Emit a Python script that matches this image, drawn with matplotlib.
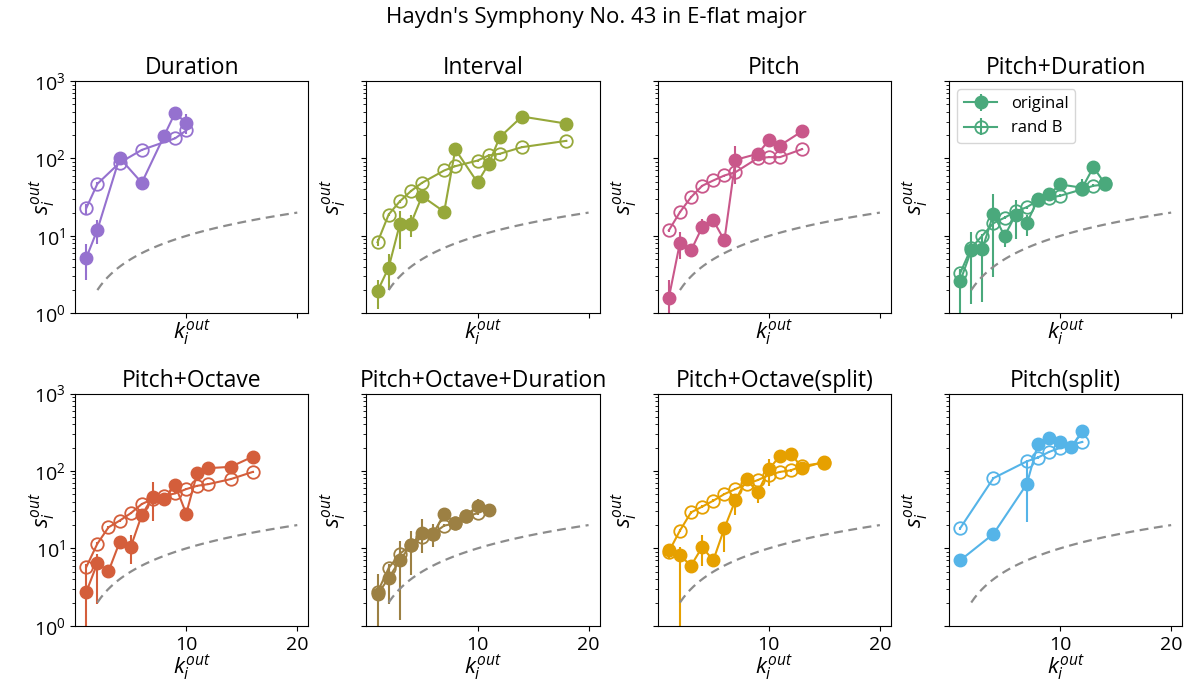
import numpy as np
import matplotlib
matplotlib.use("Agg")
import matplotlib.pyplot as plt

plt.rcParams["font.family"] = ["Open Sans", "DejaVu Sans"]
plt.rcParams["mathtext.fontset"] = "custom"
plt.rcParams["mathtext.rm"] = "Open Sans"
plt.rcParams["mathtext.it"] = "Open Sans:italic"
plt.rcParams["mathtext.bf"] = "Open Sans:bold"

# ---- data: out-degree k vs out-strength s for each network type ----
titles = ["Duration", "Interval", "Pitch", "Pitch+Duration",
          "Pitch+Octave", "Pitch+Octave+Duration", "Pitch+Octave(split)", "Pitch(split)"]
colors = ["#9571cf", "#96a83a", "#c9578a", "#4aa97c",
          "#d45e3b", "#9c8043", "#e6a000", "#55b4e8"]

# Duration
dur_k_orig = [1, 2, 4, 6, 8, 9, 10]
dur_s_orig = [5.2, 12.0, 102, 48.5, 195, 389, 286]
dur_lo_orig = [2.7, 7.8, 98, 46, 188, 375, 250]
dur_hi_orig = [7.9, 16.2, 106, 51, 202, 403, 380]
dur_k_rand = [1, 2, 4, 6, 9, 10]
dur_s_rand = [22.8, 47, 88, 129, 182, 230]
dur_lo_rand = [19, 45, 85, 125, 176, 205]
dur_hi_rand = [26, 49, 91, 133, 188, 262]

# Interval
int_k_orig = [1, 2, 3, 4, 5, 7, 8, 10, 11, 12, 14, 18]
int_s_orig = [1.94, 3.9, 14.1, 14.4, 32.6, 20.5, 131, 49, 85, 188, 348, 282]
int_lo_orig = [1.15, 1.98, 6.8, 9.7, 31, 19.5, 125, 47, 70, 180, 335, 272]
int_hi_orig = [2.67, 5.9, 20.9, 18.7, 34, 21.5, 137, 51, 105, 196, 361, 292]
int_k_rand = [1, 2, 3, 4, 5, 7, 8, 10, 11, 12, 14, 18]
int_s_rand = [8.3, 18.9, 27.9, 37.9, 48.5, 70, 79.5, 94, 109.5, 115, 140, 169]
int_lo_rand = [7.4, 18.2, 27, 36.5, 47, 68, 77, 91, 106, 112, 136, 165]
int_hi_rand = [9.2, 19.6, 28.8, 39.3, 50, 72, 82, 97, 113, 118, 144, 173]

# Pitch
pit_k_orig = [1, 2, 3, 4, 5, 6, 7, 9, 10, 11, 13]
pit_s_orig = [1.59, 8.2, 6.5, 13, 15.9, 8.75, 96, 115, 171, 147, 225]
pit_lo_orig = [0.5, 5.1, 6.2, 10.5, 15.2, 8.4, 47, 110, 165, 141, 217]
pit_hi_orig = [2.67, 11.2, 6.8, 16.5, 16.6, 9.1, 143, 120, 177, 153, 233]
pit_k_rand = [1, 2, 3, 4, 5, 6, 7, 9, 10, 11, 13]
pit_s_rand = [11.8, 20.3, 31.7, 44.4, 52, 60.3, 66.6, 101, 104, 104, 132]
pit_lo_rand = [11.3, 19.6, 30.7, 43, 50.5, 58.5, 64, 98, 101, 101, 128]
pit_hi_rand = [12.3, 21.0, 32.7, 45.8, 53.5, 62, 69, 104, 107, 107, 136]

# Pitch+Duration
pd_k_orig = [1, 2, 3, 4, 5, 6, 7, 8, 9, 10, 12, 13, 14]
pd_s_orig = [2.59, 6.5, 6.8, 19.3, 9.95, 18.9, 14.6, 29.6, 34.3, 46.2, 41.9, 77.3, 48]
pd_lo_orig = [0.5, 1.33, 1.4, 2.94, 7.2, 9.2, 10.1, 25, 29, 38, 33, 75, 46]
pd_hi_orig = [3.6, 11.2, 9.7, 35, 11.8, 28.7, 18.4, 35, 41, 56, 54, 80, 50]
pd_k_rand = [1, 2, 3, 4, 5, 6, 7, 8, 9, 10, 12, 13, 14]
pd_s_rand = [3.3, 7.0, 10.1, 14.6, 17.2, 20.7, 23.5, 28.7, 31.1, 33, 40, 44.4, 46.2]
pd_lo_rand = [2.9, 6.5, 9.5, 13.8, 16.3, 19.7, 22.3, 27.3, 29.6, 31.5, 38, 42.5, 44.2]
pd_hi_rand = [3.7, 7.5, 10.7, 15.4, 18.1, 21.7, 24.7, 30.1, 32.6, 34.5, 42, 46.3, 48.2]

# Pitch+Octave
po_k_orig = [1, 2, 3, 4, 5, 6, 7, 8, 9, 10, 11, 12, 14, 16]
po_s_orig = [2.73, 6.45, 5.05, 12.0, 10.4, 27, 46.5, 42.9, 65.6, 28.1, 94.6, 108.7, 113, 153]
po_lo_orig = [0.5, 1.94, 4.8, 10, 6.3, 25.5, 22.8, 41, 62, 26.8, 90, 104, 108, 147]
po_hi_orig = [5.2, 8.5, 5.3, 14, 14.7, 28.5, 71, 45, 69, 29.4, 99, 113, 118, 159]
po_k_rand = [1, 2, 3, 4, 5, 6, 7, 8, 9, 10, 11, 12, 14, 16]
po_s_rand = [5.74, 11.5, 18.7, 22.8, 28.4, 37.4, 43.4, 47.9, 51.2, 58.3, 64.4, 67.6, 78.4, 97.3]
po_lo_rand = [5.3, 11.0, 18.0, 22.0, 27.5, 36.2, 42.0, 46.4, 49.7, 56.6, 62.5, 65.6, 76.1, 94.4]
po_hi_rand = [6.2, 12.0, 19.4, 23.6, 29.3, 38.6, 44.8, 49.4, 52.7, 60.0, 66.3, 69.6, 80.7, 100.2]

# Pitch+Octave+Duration
pod_k_orig = [1, 2, 3, 4, 5, 6, 7, 8, 9, 10, 11]
pod_s_orig = [2.55, 4.14, 6.99, 11.1, 15.9, 15.4, 27.9, 21.3, 26.5, 35.6, 31.6]
pod_lo_orig = [0.5, 1.94, 1.18, 4.5, 8.7, 10.4, 23, 20.5, 25.5, 29, 30.5]
pod_hi_orig = [4.7, 6.3, 12.6, 17, 24, 20.7, 33, 22.1, 27.5, 44, 32.7]
pod_k_rand = [1, 2, 3, 4, 5, 6, 7, 8, 9, 10]
pod_s_rand = [2.73, 5.57, 8.5, 11, 13.9, 15.5, 19.7, 21, 26, 28.4]
pod_lo_rand = [2.5, 5.2, 8.0, 10.4, 13.2, 14.7, 18.7, 20.0, 24.8, 27.0]
pod_hi_rand = [2.96, 5.94, 9.0, 11.6, 14.6, 16.3, 20.7, 22.0, 27.2, 29.8]

# Pitch+Octave(split)
pos_k_orig = [1, 2, 3, 4, 5, 6, 7, 8, 9, 10, 11, 12, 13, 15]
pos_s_orig = [9.4, 8.1, 6.0, 10.4, 7.0, 18.2, 42.1, 78.4, 52.7, 105, 156, 168, 108.7, 132]
pos_lo_orig = [7.35, 0.5, 5.7, 6.0, 6.7, 8.9, 27.3, 72, 38, 64, 148, 158, 104, 126]
pos_hi_orig = [11.5, 10.5, 6.3, 14.7, 7.3, 21.7, 50, 85, 64, 142, 166, 185, 113, 140]
pos_k_rand = [1, 2, 3, 4, 5, 6, 7, 8, 9, 10, 11, 12, 13, 15]
pos_s_rand = [9.1, 17, 29.2, 34.6, 41.3, 50.3, 58.4, 67.7, 76.2, 88.3, 97.3, 102, 116, 128]
pos_lo_rand = [8.6, 16.2, 28.0, 33.2, 39.7, 48.3, 56.1, 65.0, 73.2, 84.8, 93.4, 98.0, 111.4, 123]
pos_hi_rand = [9.6, 17.8, 30.4, 36.0, 42.9, 52.3, 60.7, 70.4, 79.2, 91.8, 101.2, 106, 120.6, 133]

# Pitch(split)
ps_k_orig = [1, 4, 7, 8, 9, 10, 11, 12]
ps_s_orig = [7.0, 15.4, 67.7, 221, 264, 239, 204, 327]
ps_lo_orig = [6.7, 14.7, 21.7, 212, 253, 229, 196, 314]
ps_hi_orig = [7.3, 16.1, 135, 230, 275, 249, 212, 340]
ps_k_rand = [1, 4, 7, 8, 9, 10, 12]
ps_s_rand = [18.2, 80.8, 133, 149, 176, 199, 237]
ps_lo_rand = [17.5, 77.6, 128, 143, 169, 191, 228]
ps_hi_rand = [18.9, 84.0, 138, 155, 183, 207, 246]

panels = [
    (dur_k_orig, dur_s_orig, dur_lo_orig, dur_hi_orig, dur_k_rand, dur_s_rand, dur_lo_rand, dur_hi_rand),
    (int_k_orig, int_s_orig, int_lo_orig, int_hi_orig, int_k_rand, int_s_rand, int_lo_rand, int_hi_rand),
    (pit_k_orig, pit_s_orig, pit_lo_orig, pit_hi_orig, pit_k_rand, pit_s_rand, pit_lo_rand, pit_hi_rand),
    (pd_k_orig, pd_s_orig, pd_lo_orig, pd_hi_orig, pd_k_rand, pd_s_rand, pd_lo_rand, pd_hi_rand),
    (po_k_orig, po_s_orig, po_lo_orig, po_hi_orig, po_k_rand, po_s_rand, po_lo_rand, po_hi_rand),
    (pod_k_orig, pod_s_orig, pod_lo_orig, pod_hi_orig, pod_k_rand, pod_s_rand, pod_lo_rand, pod_hi_rand),
    (pos_k_orig, pos_s_orig, pos_lo_orig, pos_hi_orig, pos_k_rand, pos_s_rand, pos_lo_rand, pos_hi_rand),
    (ps_k_orig, ps_s_orig, ps_lo_orig, ps_hi_orig, ps_k_rand, ps_s_rand, ps_lo_rand, ps_hi_rand),
]

# reference line s = k
ref_k = np.linspace(2, 20, 60)


def yerr(s, lo, hi):
    s = np.asarray(s, float)
    return np.vstack([s - np.asarray(lo, float), np.asarray(hi, float) - s])


fig, axes = plt.subplots(2, 4, figsize=(11.93, 6.81), dpi=100, sharex=True, sharey=True)
fig.subplots_adjust(left=0.063, right=0.991, top=0.881, bottom=0.081, wspace=0.249, hspace=0.345)

for i, (ax, title, color, (ko, so, loo, hio, kr, sr, lor, hir)) in enumerate(
        zip(axes.flat, titles, colors, panels)):
    ax.errorbar(ko, so, yerr=yerr(so, loo, hio), fmt="-o", color=color, ms=9,
                lw=1.5, elinewidth=1.5, label="original")
    ax.errorbar(kr, sr, yerr=yerr(sr, lor, hir), fmt="-o", color=color, ms=9,
                mfc="none", mew=1.3, lw=1.5, elinewidth=1.5, label="rand B")
    ax.plot(ref_k, ref_k, "--", color="#8c8c8c", lw=1.6, dashes=(4, 2.5))
    ax.set_yscale("log")
    ax.set_ylim(1, 1000)
    ax.set_xlim(0, 21)
    ax.set_xticks([10, 20])
    ax.set_title(title, fontsize=16.5, pad=5)
    ax.set_xlabel(r"$k_i^{out}$", fontsize=16, labelpad=-1)
    ax.set_ylabel(r"$s_i^{out}$", fontsize=16)
    ax.yaxis.set_label_coords(-0.08, 0.5)
    ax.tick_params(labelsize=14)

axes[0, 3].legend(loc="upper left", fontsize=12, framealpha=0.8)
fig.suptitle("Haydn's Symphony No. 43 in E-flat major", fontsize=16, y=0.99)

fig.savefig("out.png", dpi=100)
